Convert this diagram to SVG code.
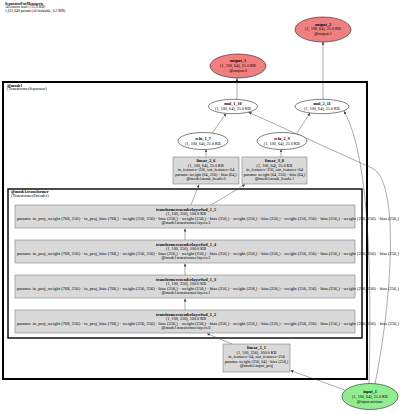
<svg xmlns="http://www.w3.org/2000/svg" width="400" height="414" viewBox="0 0 400 414">
<style>
text{font-family:"Liberation Serif","Times New Roman",serif;font-size:4.2px;fill:#000}
.t{font-size:3.7px}
.b{font-weight:bold}
.m{text-anchor:middle}
.out{fill:#f08080;stroke:#000;stroke-width:0.5}
.inp{fill:#90ee90;stroke:#000;stroke-width:0.5}
.el{fill:#fff;stroke:#000;stroke-width:0.5}
.box{fill:#d9d9d9;stroke:#808080;stroke-width:0.6}
.cl1{fill:none;stroke:#000;stroke-width:2}
.cl2{fill:none;stroke:#000;stroke-width:1.4}
.e{fill:none;stroke:#444;stroke-width:0.45;marker-end:url(#ah)}
</style>
<defs>
<marker id="ah" markerUnits="userSpaceOnUse" markerWidth="3" markerHeight="3" refX="3" refY="1.5" orient="auto">
<path d="M0,0 L3,1.5 L0,3 z" fill="#444"/>
</marker>
</defs>
<rect width="400" height="414" fill="#fff"/>
<g id="title">
<text x="5" y="4.6" class="t b">SeparatorForMenagerie</text>
<text x="5" y="8.4" class="t">14 tensors total (725.0 KB)</text>
<text x="5" y="12.2" class="t">1,632,640 params (all trainable, 6.2 MB)</text>
</g>
<g id="cluster_model">
<rect x="3" y="82" width="364" height="297" class="cl1"/>
<text x="7" y="86.5" class="b">@model</text>
<text x="7" y="90.3">(TransformerSeparator)</text>
</g>
<g id="cluster_transformer">
<rect x="8" y="189" width="354" height="149" class="cl2"/>
<text x="11" y="193.3" class="b">@model.transformer</text>
<text x="11" y="197.1">(TransformerEncoder)</text>
</g>
<g id="edges">
<path class="e" d="M345,390 L290.5,370.5"/>
<path class="e" d="M232,344 L207,333.6"/>
<path class="e" d="M185,310 L185,298.6"/>
<path class="e" d="M185,275 L185,263.6"/>
<path class="e" d="M185,240 L185,228.6"/>
<path class="e" d="M191,205 L199,184.6"/>
<path class="e" d="M211,205 L245,184.6"/>
<path class="e" d="M206,157 L206,149.4"/>
<path class="e" d="M281,157 L281,149.4"/>
<path class="e" d="M212,133.5 L226,113.4"/>
<path class="e" d="M297,133 L310,113"/>
<path class="e" d="M237,99.5 L237,78.2"/>
<path class="e" d="M323,99.5 L323,41.8"/>
<path class="e" d="M369,383 C371,300 372,160 344,111.2"/>
<path class="e" d="M375,384 C392,300 400,181 372,168 L248.5,112.2"/>
</g>
<g id="output_2">
<ellipse cx="323" cy="29.5" rx="28" ry="12.5" class="out"/>
<text x="323" y="25.6" class="m b">output_2</text>
<text x="323" y="30.4" class="m">(1, 100, 64), 25.0 KB</text>
<text x="323" y="35.2" class="m">@output.1</text>
</g>
<g id="output_1">
<ellipse cx="238" cy="66" rx="28" ry="12" class="out"/>
<text x="238" y="62.3" class="m b">output_1</text>
<text x="238" y="67" class="m">(1, 100, 64), 25.0 KB</text>
<text x="238" y="71.7" class="m">@output.0</text>
</g>
<g id="mul_1_10">
<ellipse cx="233" cy="106.5" rx="24.5" ry="7.2" class="el"/>
<text x="233" y="105.2" class="m b">mul_1_10</text>
<text x="233" y="110" class="m">(1, 100, 64), 25.0 KB</text>
</g>
<g id="mul_2_11">
<ellipse cx="322" cy="106.5" rx="27" ry="7.2" class="el"/>
<text x="322" y="105.2" class="m b">mul_2_11</text>
<text x="322" y="110" class="m">(1, 100, 64), 25.0 KB</text>
</g>
<g id="relu_1_7">
<ellipse cx="203" cy="141" rx="25" ry="8.5" class="el"/>
<text x="203" y="139.7" class="m b">relu_1_7</text>
<text x="203" y="144.5" class="m">(1, 100, 64), 25.0 KB</text>
</g>
<g id="relu_2_9">
<ellipse cx="282" cy="141" rx="25" ry="8.5" class="el"/>
<text x="282" y="139.7" class="m b">relu_2_9</text>
<text x="282" y="144.5" class="m">(1, 100, 64), 25.0 KB</text>
</g>
<g id="linear_2_6">
<rect x="173" y="157" width="66" height="27" class="box"/>
<text x="206" y="162" class="m b">linear_2_6</text>
<text x="206" y="166.6" class="m">(1, 100, 64), 25.0 KB</text>
<text x="206" y="171.2" class="m">in_features=256, out_features=64</text>
<text x="206" y="175.8" class="m">params: weight (64, 256) · bias (64,)</text>
<text x="206" y="180.4" class="m">@model.mask_heads.0</text>
</g>
<g id="linear_3_8">
<rect x="242" y="157" width="65" height="27" class="box"/>
<text x="274.5" y="162" class="m b">linear_3_8</text>
<text x="274.5" y="166.6" class="m">(1, 100, 64), 25.0 KB</text>
<text x="274.5" y="171.2" class="m">in_features=256, out_features=64</text>
<text x="274.5" y="175.8" class="m">params: weight (64, 256) · bias (64,)</text>
<text x="274.5" y="180.4" class="m">@model.mask_heads.1</text>
</g>
<g id="transformerencoderlayerfwd_1_5">
<rect x="15" y="205" width="340" height="23" class="box"/>
<text x="186" y="210.6" class="m b">transformerencoderlayerfwd_1_5</text>
<text x="186" y="215.1" class="m">(1, 100, 256), 100.0 KB</text>
<text x="17" y="219.6" textLength="382" lengthAdjust="spacingAndGlyphs">params: in_proj_weight (768, 256) · in_proj_bias (768,) · weight (256, 256) · bias (256,) · weight (256,) · bias (256,) · weight (256,) · bias (256,) · weight (256, 256) · bias (256,) · weight (256, 256) · bias (256,)</text>
<text x="186" y="224.1" class="m">@model.transformer.layers.3</text>
</g>
<g id="transformerencoderlayerfwd_1_4">
<rect x="15" y="240" width="340" height="23" class="box"/>
<text x="186" y="245.6" class="m b">transformerencoderlayerfwd_1_4</text>
<text x="186" y="250.1" class="m">(1, 100, 256), 100.0 KB</text>
<text x="17" y="254.6" textLength="382" lengthAdjust="spacingAndGlyphs">params: in_proj_weight (768, 256) · in_proj_bias (768,) · weight (256, 256) · bias (256,) · weight (256,) · bias (256,) · weight (256,) · bias (256,) · weight (256, 256) · bias (256,) · weight (256, 256) · bias (256,)</text>
<text x="186" y="259.1" class="m">@model.transformer.layers.2</text>
</g>
<g id="transformerencoderlayerfwd_1_3">
<rect x="15" y="275" width="340" height="23" class="box"/>
<text x="186" y="280.6" class="m b">transformerencoderlayerfwd_1_3</text>
<text x="186" y="285.1" class="m">(1, 100, 256), 100.0 KB</text>
<text x="17" y="289.6" textLength="382" lengthAdjust="spacingAndGlyphs">params: in_proj_weight (768, 256) · in_proj_bias (768,) · weight (256, 256) · bias (256,) · weight (256,) · bias (256,) · weight (256,) · bias (256,) · weight (256, 256) · bias (256,) · weight (256, 256) · bias (256,)</text>
<text x="186" y="294.1" class="m">@model.transformer.layers.1</text>
</g>
<g id="transformerencoderlayerfwd_1_2">
<rect x="15" y="310" width="340" height="23" class="box"/>
<text x="186" y="315.6" class="m b">transformerencoderlayerfwd_1_2</text>
<text x="186" y="320.1" class="m">(1, 100, 256), 100.0 KB</text>
<text x="17" y="324.6" textLength="382" lengthAdjust="spacingAndGlyphs">params: in_proj_weight (768, 256) · in_proj_bias (768,) · weight (256, 256) · bias (256,) · weight (256,) · bias (256,) · weight (256,) · bias (256,) · weight (256, 256) · bias (256,) · weight (256, 256) · bias (256,)</text>
<text x="186" y="329.1" class="m">@model.transformer.layers.0</text>
</g>
<g id="linear_1_1">
<rect x="223" y="344" width="67" height="28" class="box"/>
<text x="256.5" y="349" class="m b">linear_1_1</text>
<text x="256.5" y="353.6" class="m">(1, 100, 256), 100.0 KB</text>
<text x="256.5" y="358.2" class="m">in_features=64, out_features=256</text>
<text x="256.5" y="362.8" class="m">params: weight (256, 64) · bias (256,)</text>
<text x="256.5" y="367.4" class="m">@model.input_proj</text>
</g>
<g id="input_1">
<ellipse cx="370" cy="396.5" rx="28" ry="13" class="inp"/>
<text x="370" y="393.4" class="m b">input_1</text>
<text x="370" y="398" class="m">(1, 100, 64), 25.0 KB</text>
<text x="370" y="402.6" class="m">@input.mixture</text>
</g>
</svg>
